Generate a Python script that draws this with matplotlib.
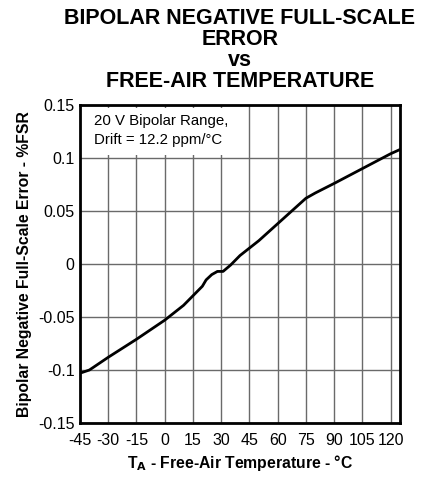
import matplotlib
matplotlib.use("Agg")
import matplotlib.pyplot as plt
from matplotlib.patches import Rectangle

plt.rcParams['font.family'] = ['Liberation Sans', 'DejaVu Sans']
plt.rcParams['axes.unicode_minus'] = False

temps = [-45, -40, -30, -15, 0, 10, 15, 20, 22, 25, 28, 31, 35, 40, 45, 50, 60, 70, 75, 80, 90, 105, 120, 125]
error = [-0.103, -0.100, -0.088, -0.071, -0.053, -0.039, -0.030, -0.021, -0.015, -0.010, -0.007, -0.007,
         -0.001, 0.008, 0.015, 0.022, 0.038, 0.054, 0.062, 0.067, 0.076, 0.090, 0.104, 0.108]

xticks = [-45, -30, -15, 0, 15, 30, 45, 60, 75, 90, 105, 120]
yticks = [-0.15, -0.1, -0.05, 0, 0.05, 0.1, 0.15]
ytick_labels = ['-0.15', '-0.1', '-0.05', '0', '0.05', '0.1', '0.15']

fig = plt.figure(figsize=(4.22, 4.79), dpi=100)
ax = fig.add_axes([80/422, 1-423/479, 320/422, 318/479])

ax.set_xlim(-45, 125)
ax.set_ylim(-0.15, 0.15)
ax.set_xticks(xticks)
ax.set_yticks(yticks)
ax.set_yticklabels(ytick_labels)
ax.tick_params(length=0, labelsize=11.5)
ax.tick_params(axis='x', pad=7)
ax.tick_params(axis='y', pad=4)
ax.set_axisbelow(True)
ax.grid(True, color='#6a6a6a', linewidth=1.0)
for s in ax.spines.values():
    s.set_linewidth(2.0)
    s.set_zorder(5)

ax.add_patch(Rectangle((0.0, 0.843), 0.49, 0.148, transform=ax.transAxes,
                       facecolor='white', edgecolor='none', zorder=2.5))
ax.text(-37.5, 0.126, '20 V Bipolar Range,\nDrift = 12.2 ppm/°C', fontsize=10.8, va='center', ha='left',
        linespacing=1.4, zorder=3)

ax.plot(temps, error, color='black', linewidth=2.0, zorder=4)

ax.set_xlabel('T$_\\mathbf{A}$ - Free-Air Temperature - °C', fontsize=11.3, fontweight='bold', labelpad=4)
ax.set_ylabel('Bipolar Negative Full-Scale Error - %FSR', fontsize=11.3, fontweight='bold', labelpad=4)

fig.text(240/422, 1-8/479, 'BIPOLAR NEGATIVE FULL-SCALE\nERROR\nvs\nFREE-AIR TEMPERATURE',
         ha='center', va='top', fontsize=15.5, fontweight='bold', linespacing=1.0)

fig.savefig('out.png', dpi=100)
